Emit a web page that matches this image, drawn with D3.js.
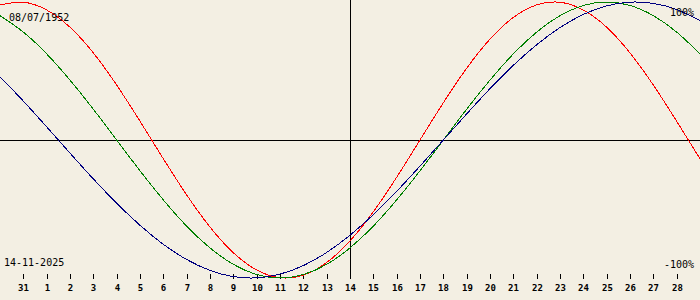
<!DOCTYPE html>
<html>
<head>
<meta charset="utf-8">
<script src="https://cdn.jsdelivr.net/npm/d3@7"></script>
<style>
  body { margin: 0; background: #f3efe3; }
  svg { display: block; }
  text { font-family: "DejaVu Sans Mono", monospace; fill: #000; }
</style>
</head>
<body>
<svg id="chart" width="700" height="300"></svg>
<script>
// days shown, from 30 Oct to 29 Nov 2025
var days = ["30", "31", "1", "2", "3", "4", "5", "6", "7", "8", "9", "10", "11", "12", "13", "14",
            "15", "16", "17", "18", "19", "20", "21", "22", "23", "24", "25", "26", "27", "28", "29"];

var physical = [0.979, 0.998, 0.942, 0.817, 0.631, 0.398, 0.136, -0.136, -0.398, -0.631, -0.817,
                -0.942, -0.998, -0.979, -0.888, -0.731, -0.520, -0.270, 0, 0.270, 0.520, 0.731,
                0.888, 0.979, 0.998, 0.942, 0.817, 0.631, 0.398, 0.136, -0.136];

var emotional = [0.901, 0.782, 0.624, 0.434, 0.223, 0, -0.223, -0.434, -0.624, -0.782, -0.901,
                 -0.975, -1, -0.975, -0.901, -0.782, -0.624, -0.434, -0.223, 0, 0.223, 0.434,
                 0.624, 0.782, 0.901, 0.975, 1, 0.975, 0.901, 0.782, 0.624];

var intellectual = [0.458, 0.282, 0.095, -0.095, -0.282, -0.458, -0.618, -0.756, -0.866, -0.945,
                    -0.990, -0.999, -0.972, -0.910, -0.815, -0.690, -0.541, -0.372, -0.189, 0,
                    0.189, 0.372, 0.541, 0.690, 0.815, 0.910, 0.972, 0.999, 0.990, 0.945, 0.866];

var birthLabel = "08/07/1952";
var todayLabel = "14-11-2025";
var todayIndex = 15;

var svg = d3.select("#chart");
var width = 700;

var x = d3.scaleLinear().domain([0, days.length - 1]).range([0, width]);
var y = d3.scaleLinear().domain([-1, 1]).range([278, 2]);

// cross lines
svg.append("line")
    .attr("x1", 0).attr("x2", width)
    .attr("y1", Math.round(y(0)) + 0.5).attr("y2", Math.round(y(0)) + 0.5)
    .attr("stroke", "#000");
svg.append("line")
    .attr("x1", Math.round(x(todayIndex)) + 0.5).attr("x2", Math.round(x(todayIndex)) + 0.5)
    .attr("y1", 0).attr("y2", 279)
    .attr("stroke", "#000");

// day ticks along the bottom
var tickIdx = d3.range(1, days.length - 1);
var ticks = svg.append("g").selectAll("g")
    .data(tickIdx)
    .join("g")
    .attr("transform", d => "translate(" + (Math.round(x(d)) + 0.5) + ",0)");
ticks.append("line")
    .attr("y1", 274).attr("y2", 279)
    .attr("stroke", "#000");
ticks.append("text")
    .attr("y", 291)
    .attr("text-anchor", "middle")
    .style("font-size", "9px")
    .style("font-weight", "bold")
    .text(d => days[d]);

var line = d3.line()
    .x((d, i) => x(i))
    .y(d => y(d))
    .curve(d3.curveNatural);

var series = [
    {values: physical, color: "#ff0000"},
    {values: emotional, color: "#008000"},
    {values: intellectual, color: "#000080"}
];

svg.append("g").selectAll("path")
    .data(series)
    .join("path")
    .attr("d", d => line(d.values))
    .attr("fill", "none")
    .attr("stroke", d => d.color)
    .attr("stroke-width", 1)
    .attr("shape-rendering", "crispEdges");

// corner labels
svg.append("text").attr("x", 9).attr("y", 21).style("font-size", "10px").text(birthLabel);
svg.append("text").attr("x", 4).attr("y", 266).style("font-size", "10px").text(todayLabel);
svg.append("text").attr("x", 694).attr("y", 16).attr("text-anchor", "end").style("font-size", "10px").text("100%");
svg.append("text").attr("x", 694).attr("y", 268).attr("text-anchor", "end").style("font-size", "10px").text("-100%");
</script>
</body>
</html>
